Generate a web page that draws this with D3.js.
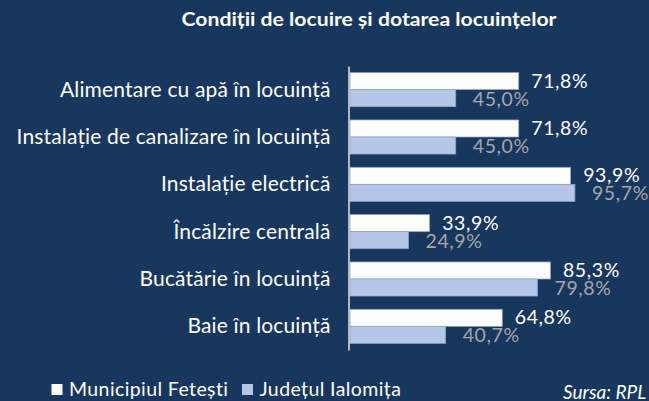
<!DOCTYPE html>
<html>
<head>
<meta charset="utf-8">
<script src="https://cdn.jsdelivr.net/npm/d3@7"></script>
<style>
  html, body { margin: 0; padding: 0; background: #17375E; }
  svg { display: block; font-family: Lato, "Open Sans", sans-serif; }
</style>
</head>
<body>
<svg id="chart" width="649" height="401"></svg>
<script>
const title = "Condiții de locuire și dotarea locuințelor";
const categories = [
  "Alimentare cu apă în locuință",
  "Instalație de canalizare în locuință",
  "Instalație electrică",
  "Încălzire centrală",
  "Bucătărie în locuință",
  "Baie în locuință"
];
const seriesNames = ["Municipiul Fetești", "Județul Ialomița"];
const municipiu = [71.8, 71.8, 93.9, 33.9, 85.3, 64.8];
const judet = [45.0, 45.0, 95.7, 24.9, 79.8, 40.7];
const source = "Sursa: RPL";

const series = [
  { name: seriesNames[0], values: municipiu, fill: "#FFFFFF", label: "#FFFFFF", offset: 12.5, dy: "0.34em" },
  { name: seriesNames[1], values: judet, fill: "#B4C7E7", label: "#A6A6A6", offset: 17, dy: "0.38em" }
];

const svg = d3.select("#chart");
svg.append("rect").attr("width", 649).attr("height", 401).attr("fill", "#17375E");

const locale = d3.formatLocale({ decimal: ",", thousands: ".", grouping: [3], currency: ["", ""] });
const fmt = v => locale.format(".1f")(v) + "%";

const x = d3.scaleLinear().domain([0, 100]).range([350, 585]);
const y = d3.scaleBand().domain(categories).range([66, 350]).paddingInner(0.28).paddingOuter(0.14);
const sub = d3.scaleBand().domain(seriesNames).range([0, y.bandwidth()]);

// title
svg.append("text")
  .attr("x", 369).attr("y", 26)
  .attr("text-anchor", "middle")
  .attr("fill", "#FFFFFF")
  .attr("font-weight", "bold")
  .attr("font-size", 18)
  .attr("textLength", 375)
  .attr("lengthAdjust", "spacingAndGlyphs")
  .text(title);

// bars
const groups = svg.append("g").selectAll("g.grp")
  .data(categories).join("g")
  .attr("class", "grp")
  .attr("transform", d => `translate(0,${y(d)})`);

series.forEach(s => {
  groups.append("rect")
    .attr("x", x(0))
    .attr("y", sub(s.name))
    .attr("width", (d, i) => x(s.values[i]) - x(0))
    .attr("height", sub.bandwidth())
    .attr("fill", s.fill)
    .attr("stroke", "#8EA3C2")
    .attr("stroke-width", 0.75);
  groups.append("text")
    .attr("x", (d, i) => x(s.values[i]) + s.offset)
    .attr("y", sub(s.name) + sub.bandwidth() / 2)
    .attr("dy", s.dy)
    .attr("fill", s.label)
    .attr("font-size", 19.5)
    .attr("letter-spacing", 0.6)
    .text((d, i) => fmt(s.values[i]));
});

// axis (category labels)
const axis = svg.append("g")
  .attr("transform", "translate(348.5,0)")
  .call(d3.axisLeft(y).tickSize(0).tickSizeOuter(0).tickPadding(18));
axis.select(".domain").attr("stroke", "#D9D9D9").attr("stroke-width", 1.6);
axis.selectAll("text")
  .attr("fill", "#FFFFFF")
  .attr("font-size", 21)
  .attr("font-family", "Lato, 'Open Sans', sans-serif")
  .attr("letter-spacing", 0.15)
  .attr("dy", "0.33em");

// legend
const legendX = [51.5, 242];
const legend = svg.append("g").selectAll("g")
  .data(series).join("g")
  .attr("transform", (d, i) => `translate(${legendX[i]},384)`);
legend.append("rect").attr("width", 11).attr("height", 11).attr("fill", d => d.fill);
legend.append("text")
  .attr("x", 17.5).attr("y", 12)
  .attr("fill", "#FFFFFF")
  .attr("font-size", 19.5)
  .attr("letter-spacing", 0.4)
  .text(d => d.name);

// source
svg.append("text")
  .attr("x", 563).attr("y", 399)
  .attr("fill", "#FFFFFF")
  .attr("font-style", "italic")
  .attr("font-size", 19)
  .text(source);
</script>
</body>
</html>
